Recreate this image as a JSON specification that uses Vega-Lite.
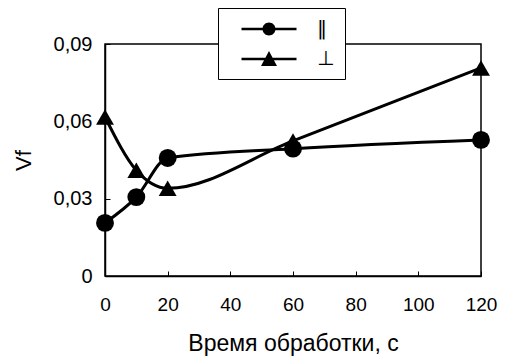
{
  "$schema": "https://vega.github.io/schema/vega-lite/v6.json",
  "width": 376,
  "height": 232,
  "autosize": {"type": "none"},
  "padding": {"left": 105, "top": 44, "right": 24, "bottom": 82},
  "background": "white",
  "config": {
    "view": {"stroke": "black", "strokeWidth": 1.5},
    "font": "Liberation Sans",
    "axis": {
      "grid": false,
      "domainColor": "black",
      "domainWidth": 1.5,
      "tickColor": "black",
      "tickSize": -5,
      "tickWidth": 1,
      "labelFont": "Liberation Sans",
      "labelFontSize": 20,
      "labelColor": "black",
      "labelFlush": false,
      "titleFont": "Liberation Sans",
      "titleFontSize": 23,
      "titleFontWeight": "normal",
      "titleColor": "black"
    }
  },
  "data": {
    "values": [
      {"t": 0, "v": 0.0206, "s": "‖"},
      {"t": 10, "v": 0.0306, "s": "‖"},
      {"t": 20, "v": 0.0458, "s": "‖"},
      {"t": 60, "v": 0.0494, "s": "‖"},
      {"t": 120, "v": 0.0528, "s": "‖"},
      {"t": 0, "v": 0.0617, "s": "⊥"},
      {"t": 10, "v": 0.041, "s": "⊥"},
      {"t": 20, "v": 0.034, "s": "⊥"},
      {"t": 60, "v": 0.0524, "s": "⊥"},
      {"t": 120, "v": 0.0807, "s": "⊥"}
    ]
  },
  "encoding": {
    "x": {
      "field": "t",
      "type": "quantitative",
      "scale": {"domain": [0, 120], "nice": false},
      "axis": {"values": [0, 20, 40, 60, 80, 100, 120], "title": "Время обработки, с", "labelFontSize": 19, "labelPadding": 24, "titlePadding": 18}
    },
    "y": {
      "field": "v",
      "type": "quantitative",
      "scale": {"domain": [0, 0.09], "nice": false},
      "axis": {
        "values": [0, 0.03, 0.06, 0.09],
        "labelExpr": "datum.value == 0 ? '0' : replace(format(datum.value, '.2f'), '.', ',')",
        "title": "Vf",
        "labelPadding": 18,
        "titlePadding": 18,
        "titleFontSize": 22
      }
    }
  },
  "resolve": {"scale": {"shape": "independent"}, "legend": {"shape": "independent"}},
  "layer": [
    {
      "mark": {"type": "line", "interpolate": "monotone", "color": "black", "strokeWidth": 3},
      "encoding": {"detail": {"field": "s"}}
    },
    {
      "mark": {"type": "point", "filled": true, "color": "black", "opacity": 1, "size": 320},
      "encoding": {
        "shape": {
          "field": "s",
          "type": "nominal",
          "scale": {"domain": ["‖", "⊥"], "range": ["circle", "triangle-up"]},
          "legend": null
        }
      }
    },
    {
      "mark": {"type": "point", "filled": true, "color": "black", "opacity": 0, "size": 400},
      "encoding": {
        "shape": {
          "field": "s",
          "type": "nominal",
          "scale": {"domain": ["‖", "⊥"], "range": ["M-2.75,-0.13H2.75V0.13H-2.75ZM0.65,0A0.65,0.65,0,1,1,-0.65,0A0.65,0.65,0,1,1,0.65,0Z", "M-2.75,-0.13H2.75V0.13H-2.75ZM0,-0.8L0.8,0.7L-0.8,0.7Z"]},
          "legend": {
            "title": null,
            "orient": "none",
            "legendX": 113,
            "legendY": -36,
            "fillColor": "white",
            "strokeColor": "black",
            "padding": 10,
            "rowPadding": 9,
            "symbolSize": 400,
            "symbolOpacity": 1,
            "symbolFillColor": "black",
            "symbolOffset": 30,
            "labelOffset": 37,
            "labelFont": "DejaVu Sans",
            "labelFontSize": 20,
            "labelColor": "black"
          }
        }
      }
    }
  ]
}
